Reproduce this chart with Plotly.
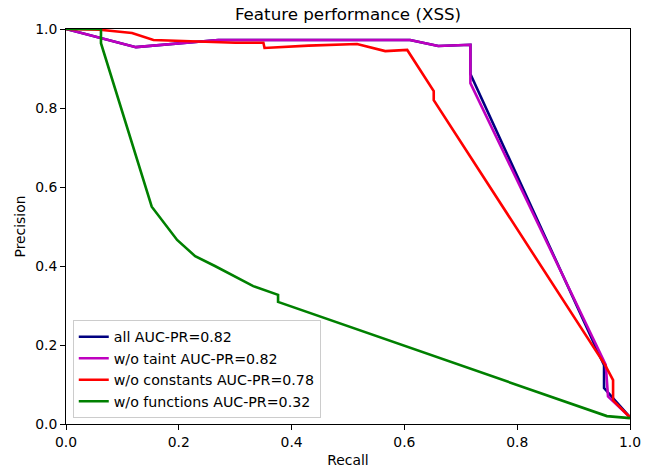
import plotly.graph_objects as go

# ---- data ----
recall_all = [0.0, 0.124, 0.27, 0.61, 0.66, 0.717, 0.717, 0.954, 0.954, 1.0]
prec_all = [1.0, 0.954, 0.972, 0.972, 0.957, 0.96, 0.886, 0.149, 0.091, 0.017]

recall_taint = [0.0, 0.124, 0.27, 0.61, 0.66, 0.717, 0.717, 0.957, 0.961, 1.0]
prec_taint = [1.0, 0.954, 0.972, 0.972, 0.957, 0.96, 0.863, 0.15, 0.07, 0.017]

recall_const = [0.0, 0.06, 0.117, 0.155, 0.30, 0.35, 0.352, 0.43, 0.516, 0.566,
                0.605, 0.652, 0.652, 0.956, 0.97, 0.97, 1.0]
prec_const = [1.0, 0.998, 0.99, 0.972, 0.965, 0.965, 0.952, 0.958, 0.962, 0.944,
              0.947, 0.843, 0.82, 0.149, 0.111, 0.06, 0.017]

recall_func = [0.0, 0.062, 0.062, 0.152, 0.197, 0.229, 0.264, 0.332, 0.376, 0.376,
               0.959, 1.0]
prec_func = [1.0, 1.0, 0.964, 0.55, 0.466, 0.425, 0.40, 0.349, 0.327, 0.309,
             0.02, 0.015]

series_names = ["all AUC-PR=0.82", "w/o taint AUC-PR=0.82",
                "w/o constants AUC-PR=0.78", "w/o functions AUC-PR=0.32"]
series_colors = ["#000080", "#bf00bf", "#ff0000", "#008000"]

tick_vals = [0.0, 0.2, 0.4, 0.6, 0.8, 1.0]

FONT = "DejaVu Sans"
W, H = 652, 470

fig = go.Figure()
for name, color, xs, ys in zip(series_names, series_colors,
                               [recall_all, recall_taint, recall_const, recall_func],
                               [prec_all, prec_taint, prec_const, prec_func]):
    fig.add_trace(go.Scatter(x=xs, y=ys, mode="lines", name=name,
                             legendgroup=name,
                             line=dict(color=color, width=2.6)))

axis_common = dict(range=[0, 1], tickvals=tick_vals, tickformat=".1f",
                   showgrid=False, zeroline=False, showline=True, mirror=True,
                   linecolor="black", linewidth=1, ticks="outside", ticklen=5,
                   tickwidth=1, tickcolor="black", automargin=False,
                   tickfont=dict(family=FONT, size=13.9, color="black"))

fig.update_layout(
    width=W, height=H,
    margin=dict(l=66, r=22, t=29, b=46, autoexpand=False),
    paper_bgcolor="white", plot_bgcolor="white",
    font=dict(family=FONT, color="black"),
    title=dict(text="Feature performance (XSS)", x=348 / W, xanchor="center",
               xref="container", y=1 - 14 / H, yanchor="middle",
               font=dict(family=FONT, size=16.7, color="black")),
    xaxis=dict(title=dict(text="Recall", font=dict(family=FONT, size=13.9),
                          standoff=6), **axis_common),
    yaxis=dict(title=dict(text="Precision", font=dict(family=FONT, size=13.9),
                          standoff=6), **axis_common),
    legend=dict(x=0.012, y=0.015, xanchor="left", yanchor="bottom",
                bgcolor="rgba(255,255,255,0.8)", bordercolor="#cccccc",
                borderwidth=1, tracegroupgap=0,
                font=dict(family=FONT, size=14.2, color="black")),
    showlegend=True,
)

fig.write_html("out.html",
               config={"displayModeBar": False},
               post_script="document.body.style.margin='0';")
